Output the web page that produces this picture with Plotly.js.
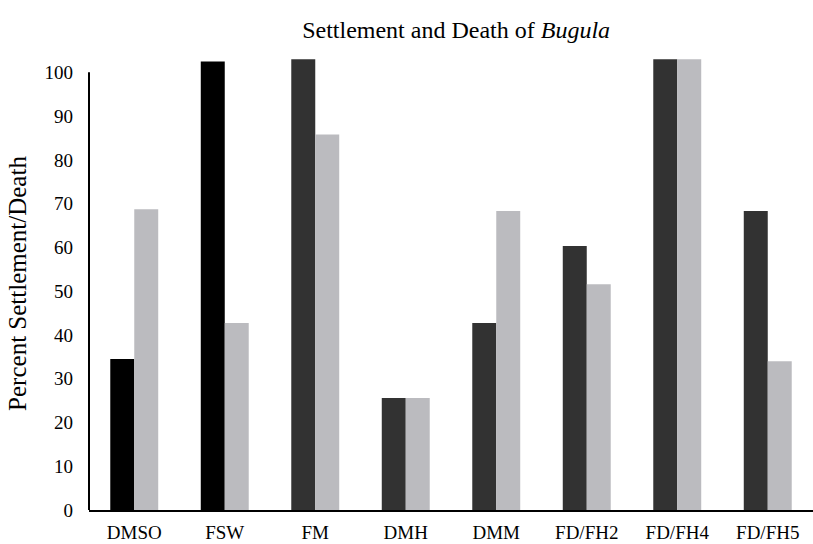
<!DOCTYPE html>
<html>
<head>
<meta charset="utf-8">
<script src="https://cdn.plot.ly/plotly-3.0.1.min.js"></script>
<style>html,body{margin:0;padding:0;background:#fff;}#chart{width:813px;height:544px;}</style>
</head>
<body>
<div id="chart"></div>
<script>
const categories = ['DMSO', 'FSW', 'FM', 'DMH', 'DMM', 'FD/FH2', 'FD/FH4', 'FD/FH5'];
const settlement = [34.5, 102.5, 103, 25.6, 42.7, 60.3, 103, 68.3];
const death = [68.7, 42.7, 85.8, 25.6, 68.3, 51.6, 103, 34];
const settlementColors = ['#000000', '#000000', '#323232', '#323232', '#323232', '#323232', '#323232', '#323232'];
const deathColor = '#bbbbbf';
const yTicks = [0, 10, 20, 30, 40, 50, 60, 70, 80, 90, 100];

const fontFam = '"Liberation Serif", "DejaVu Serif", serif';

const traces = [
  {type: 'bar', name: 'Settlement', x: categories, y: settlement, marker: {color: settlementColors}},
  {type: 'bar', name: 'Death', x: categories, y: death, marker: {color: deathColor}}
];

const layout = {
  width: 813, height: 544,
  margin: {l: 89, r: 0, t: 57, b: 34, pad: 0},
  paper_bgcolor: '#fff', plot_bgcolor: '#fff',
  font: {family: fontFam, color: '#000', size: 19},
  showlegend: false,
  barmode: 'group',
  bargap: 0.47,
  bargroupgap: 0,
  title: {text: 'Settlement and Death of <i>Bugula</i>', font: {family: fontFam, size: 24, color: '#000'}, x: 0.561, xanchor: 'center', y: 0.945, yanchor: 'middle'},
  xaxis: {showline: true, linecolor: '#000', linewidth: 2, showgrid: false, zeroline: false, ticks: '', tickfont: {size: 19}, ticklabelstandoff: 4},
  yaxis: {range: [0, 103.5], tickvals: yTicks, showline: false, showgrid: false, zeroline: false, ticks: '', ticklabelstandoff: 15,
          tickfont: {size: 19},
          title: {text: 'Percent Settlement/Death', font: {size: 25}, standoff: 10}},
  shapes: [
    {type: 'line', xref: 'paper', yref: 'y', x0: 0, x1: 0, y0: 0, y1: 100, line: {color: '#000', width: 2}}
  ]
};

Plotly.newPlot('chart', traces, layout, {displayModeBar: false, staticPlot: true});
</script>
</body>
</html>
